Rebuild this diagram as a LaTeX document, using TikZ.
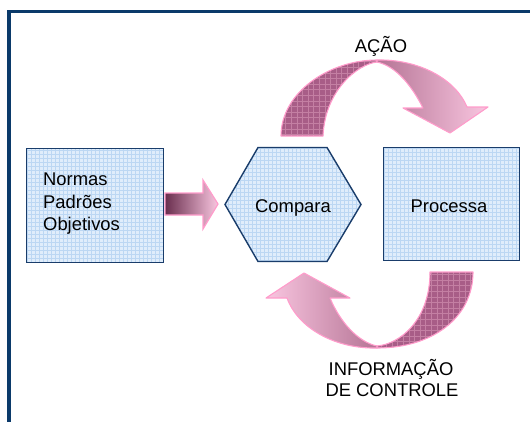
\documentclass[tikz,border=0pt]{standalone}
\usepackage{fontspec}
\setmainfont{Liberation Sans}
\definecolor{framecol}{HTML}{0B3A6A}
\definecolor{boxfill}{HTML}{E0EDFB}
\definecolor{boxgrid}{HTML}{BCD7F3}
\definecolor{boxborder}{HTML}{1A3D6B}
\definecolor{pinkline}{HTML}{FF9CCB}
\definecolor{darkfill}{HTML}{A85D87}
\definecolor{darkgrid}{HTML}{C47FA3}
\definecolor{mauve}{HTML}{B57495}
\definecolor{lightpink}{HTML}{F9C6E0}
\definecolor{deepmauve}{HTML}{6A2E4E}
\tikzset{
  boxst/.style={draw=boxborder, line width=1.4pt, fill=boxfill,
    path picture={\draw[boxgrid, line width=0.3pt, step=4pt]
      (path picture bounding box.south west) grid (path picture bounding box.north east);}},
  darkst/.style={draw=pinkline, line width=1.1pt, fill=darkfill, line join=round,
    path picture={\draw[darkgrid, line width=0.35pt, step=5.6pt]
      (path picture bounding box.south west) grid (path picture bounding box.north east);}},
  lightst/.style={draw=pinkline, line width=1.1pt, line join=round},
  lbl/.style={anchor=base, inner sep=0pt, text=black},
  lbll/.style={anchor=base west, inner sep=0pt, text=black}
}
\begin{document}
\begin{tikzpicture}[x=1pt,y=-1pt, font=\fontsize{18.4}{22}\selectfont]
\useasboundingbox (0,0) rectangle (530,421);
% frame
\draw[framecol, line width=3.6pt, line join=miter] (9,425) -- (9,11.5) -- (535,11.5);
% boxes
\node[boxst, anchor=north west, minimum width=137pt, minimum height=114pt, inner sep=0pt] (norm) at (26,148) {};
\node[boxst, anchor=north west, minimum width=136pt, minimum height=113pt, inner sep=0pt] (procbox) at (383,146.5) {};
\path[boxst] (225,204.5) -- (258,147.5) -- (327,147.5) -- (361,204.5) -- (327,261.5) -- (258,261.5) -- cycle;
% texts in boxes
\node[lbll] (n1) at (43,185.7) {Normas};
\node[lbll] (n2) at (43,208.3) {Padrões};
\node[lbll] (n3) at (43,230.7) {Objetivos};
\node[lbl] (cmp) at (293,212.7) {Compara};
\node[lbl] (proc) at (449,212.7) {Processa};
% small arrow
\path[draw=pinkline, line width=1.2pt, line join=miter, left color=deepmauve, right color=lightpink]
  (165,193) -- (203,193) -- (203,180) -- (218,204) -- (203,229) -- (203,215) -- (165,215) -- cycle;
% upper curved arrow
\path[darkst] (281,136) .. controls (281,92) and (330,60) .. (377,60)
  -- (377,62) .. controls (358,64) and (325,90) .. (323,136) -- cycle;
\path[lightst, left color=mauve, right color=lightpink]
  (377,60) .. controls (420,59) and (456,80) .. (467,107) -- (488,107) -- (450,133) -- (403,108) -- (423,108)
  .. controls (412,86) and (396,66) .. (377,62) -- cycle;
% lower curved arrow
\path[darkst] (473,272) .. controls (473,318) and (432,348) .. (377,348)
  -- (377,346) .. controls (400,344) and (430,320) .. (430,272) -- cycle;
\path[lightst, left color=lightpink, right color=mauve]
  (377,348) .. controls (335,349) and (298,328) .. (287,298) -- (266,298) -- (304,273) -- (350,298) -- (330,298)
  .. controls (340,322) and (358,342) .. (377,346) -- cycle;
% labels
\node[lbl] (acao) at (381,52) {AÇÃO};
\node[lbl] (info1) at (391,375) {INFORMAÇÃO};
\node[lbl] (info2) at (392,396.5) {DE CONTROLE};
\end{tikzpicture}
\end{document}
